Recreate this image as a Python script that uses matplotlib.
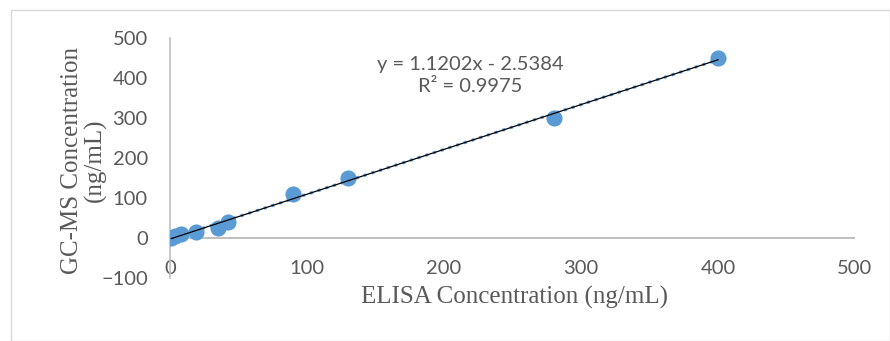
import numpy as np
import matplotlib.pyplot as plt
from matplotlib.patches import Rectangle

# ELISA vs GC-MS concentrations (ng/mL)
elisa = [1, 4, 8, 19, 35, 42, 90, 130, 280, 400]
gcms = [0, 5, 10, 15, 24, 39, 110, 151, 300, 450]
slope = 1.1202
intercept = -2.5384
x_ticks = [0, 100, 200, 300, 400, 500]
y_ticks = [-100, 0, 100, 200, 300, 400, 500]

gray = '#595959'
blue = '#5b9bd5'

fig = plt.figure(figsize=(8.9, 3.41), dpi=100)
fig.patches.append(Rectangle((11/890, 0), 1 - 11/890, 1 - 10/341, transform=fig.transFigure,
                             fill=False, edgecolor='#d9d9d9', linewidth=1))
ax = fig.add_axes([170/890, 1 - 278/341, 685/890, 240/341])

ax.scatter(elisa, gcms, s=135, color=blue, zorder=3, linewidths=0)
xl = np.array([min(elisa), max(elisa)])
ax.plot(xl, slope * xl + intercept, color=blue, linestyle=':', linewidth=2.2, zorder=2)
ax.plot(xl, slope * xl + intercept, color='black', linewidth=0.9, zorder=4)

ax.set_xlim(0, 500)
ax.set_ylim(-100, 500)
ax.set_xticks(x_ticks)
ax.set_yticks(y_ticks)
for s in ['top', 'right', 'bottom']:
    ax.spines[s].set_visible(False)
ax.spines['left'].set_color('#bfbfbf')
ax.spines['left'].set_linewidth(1.2)
ax.axhline(0, color='#bfbfbf', linewidth=1.4, zorder=1)
ax.tick_params(length=0, labelsize=14.5, labelcolor=gray)
ax.tick_params(axis='y', pad=16)
ax.tick_params(axis='x', pad=-13)
for lab in ax.get_xticklabels() + ax.get_yticklabels():
    lab.set_family('Lato')

ax.text(0.438, 0.844, 'y = 1.1202x - 2.5384\nR² = 0.9975', transform=ax.transAxes,
        ha='center', va='center', fontsize=14.5, color=gray, family='Lato', linespacing=1.4)

ax.set_xlabel('ELISA Concentration (ng/mL)', family='Liberation Serif', fontsize=18,
              color=gray)
ax.xaxis.set_label_coords(0.503, -0.035)
ax.set_ylabel('GC-MS Concentration\n(ng/mL)', family='Liberation Serif', fontsize=18,
              color=gray, linespacing=1.05)
ax.yaxis.set_label_coords(-0.092, 0.49)

fig.savefig('out.png', dpi=100)
